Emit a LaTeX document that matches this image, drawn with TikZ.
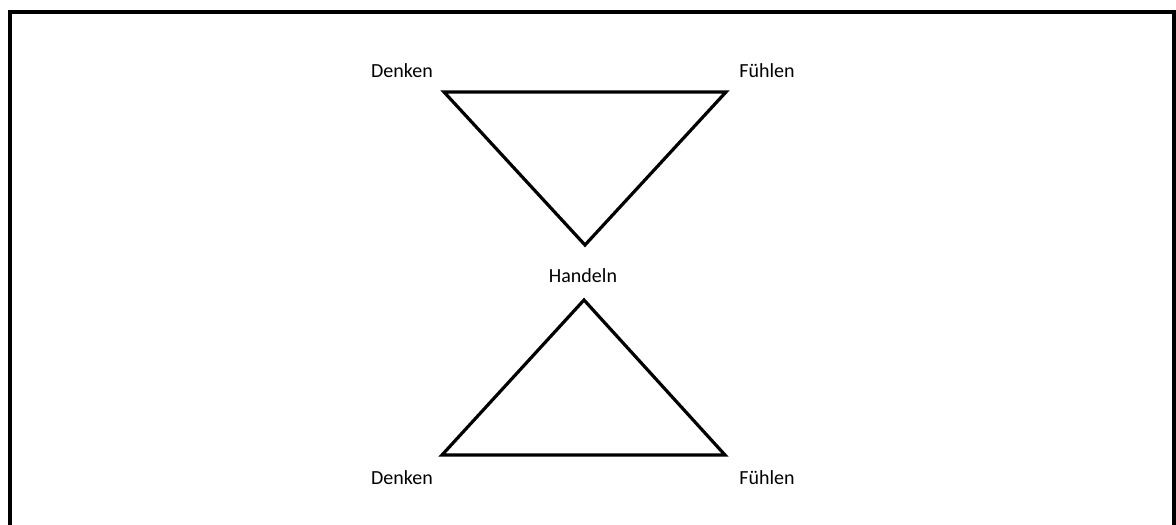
\documentclass[tikz,border=0pt]{standalone}
\usepackage{fontspec}
\setmainfont{Carlito}
\begin{document}
\begin{tikzpicture}[x=1pt,y=-1pt,
  lbl/.style={anchor=base,inner sep=0pt,font=\fontsize{20}{24}\selectfont},
  tri/.style={draw=black,line width=3.2pt,line join=miter},
  frame/.style={draw=black,line width=4pt}]
\useasboundingbox (0,0) rectangle (1176,525);
% frame (open at the bottom)
\coordinate (fbl) at (10,530);
\coordinate (ftl) at (10,12);
\coordinate (ftr) at (1174,12);
\coordinate (fbr) at (1174,530);
\draw[frame] (fbl) -- (ftl) -- (ftr) -- (fbr);
% cut-off caption above the frame
\node[lbl] (pl) at (722,-3) {(};
\node[lbl] (pr) at (849,-3) {)};
% top triangle
\coordinate (t1) at (444,92);
\coordinate (t2) at (726,92);
\coordinate (t3) at (585,245);
\draw[tri] (t1) -- (t2) -- (t3) -- cycle;
% bottom triangle
\coordinate (b1) at (584,300);
\coordinate (b2) at (442,455);
\coordinate (b3) at (725,455);
\draw[tri] (b1) -- (b2) -- (b3) -- cycle;
% labels
\node[lbl] (dtop) at (402,77) {Denken};
\node[lbl] (ftop) at (767,77) {Fühlen};
\node[lbl] (hand) at (583,282) {Handeln};
\node[lbl] (dbot) at (402,484) {Denken};
\node[lbl] (fbot) at (767,484) {Fühlen};
\end{tikzpicture}
\end{document}
